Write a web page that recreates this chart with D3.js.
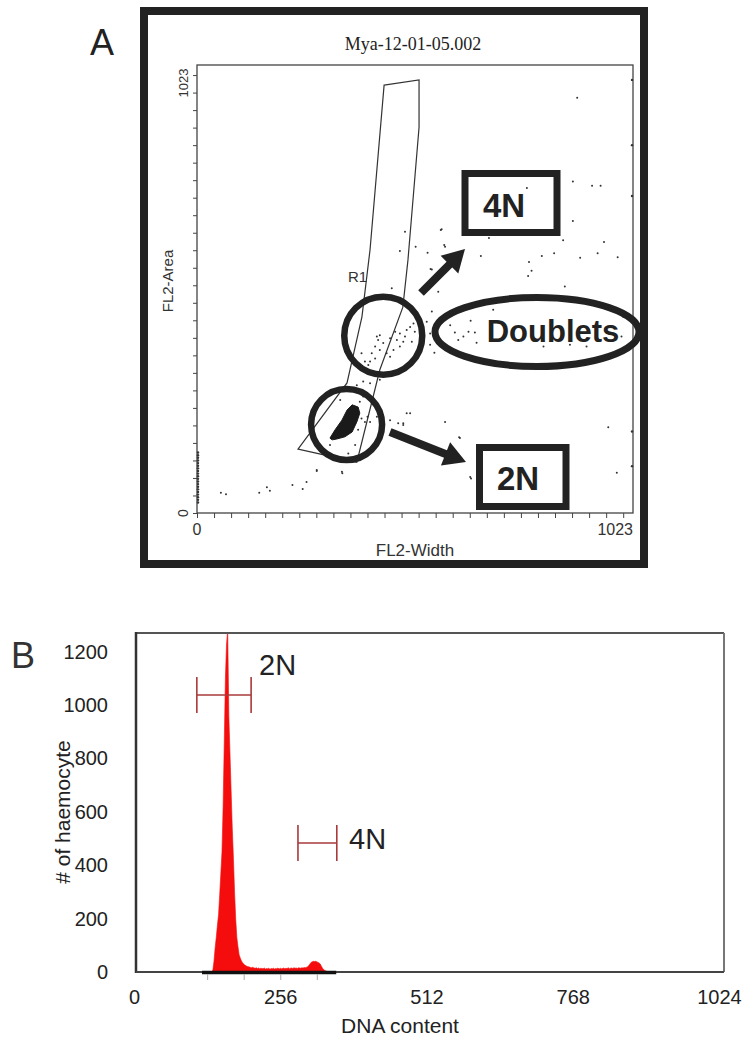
<!DOCTYPE html>
<html><head><meta charset="utf-8">
<script src="https://cdn.jsdelivr.net/npm/d3@7"></script>
<style>
html,body{margin:0;padding:0;background:#fff;}
svg{display:block;}
text{font-family:"Liberation Sans",Arial,Helvetica,sans-serif;}
</style></head><body>
<svg id="fig" width="745" height="1041"></svg>
<script>
// ---------- Panel A: FL2-Width vs FL2-Area dot plot ----------
const plotTitle = "Mya-12-01-05.002";
const widthAxisLabels = ["0", "1023"];
const areaAxisLabels = ["0", "1023"];

// R1 gate outline, [FL2-Width, FL2-Area]
const gateR1 = [[439,977],[521,989],[521,881],[495,578],[483,470],[429,327],[375,116],
                [237,146],[352,297],[387,448],[406,601]];

// dense singlet (2N) cluster outline
const singletCluster = [[312,171],[324,190],[340,212],[352,235],[364,247],[378,242],
                        [382,228],[375,208],[364,185],[347,174],[328,169],[317,167]];

// individual events, [FL2-Width, FL2-Area]
const events = [
  [488,642],[572,646],[476,598],[513,608],[541,594],[580,612],[551,556],
  [882,757],[927,747],[947,747],[774,742],[882,667],[574,648],[582,608],[685,628],[859,623],
  [955,619],[666,587],[779,573],[809,587],[838,593],[899,583],[940,593],[987,584],[777,541],
  [785,553],[863,517],[548,557],
  [594,429],[605,412],[625,403],[637,414],[652,412],[642,439],[613,395],[656,389],[695,464],
  [813,380],[875,384],[914,380],[996,403],[1000,448],[557,366],[547,410],
  [500,228],[484,205],[582,208],[615,173],[965,196],[643,79],[985,92],
  [422,403],[429,406],[425,395],[418,380],[410,365],[406,346],[402,338],[429,372],[437,388],
  [453,399],[465,414],[476,410],[488,403],[492,418],[500,425],[508,433],[484,391],[476,380],
  [461,372],[453,357],[504,391],[511,414],[418,353],[445,365],[469,395],[394,346],[386,365],
  [539,437],[547,384],[551,460],[566,505],[457,513],[429,304],[390,300],[375,292],[406,296],
  [453,212],[422,220],[437,197],[492,228],[472,205],[484,201],[617,171],[281,98],[340,94],
  [355,136],[386,216],[400,220],[406,208],[394,208],[390,266],[382,254],
  [56,46],[68,43],[146,46],[164,59],[171,51],[224,64],[248,55],[257,71],[281,96],[341,91],[641,82],
  [892,948],[336,258],[312,155],[371,155],[378,190]
];
// events piled at the channel limits
const zeroWidthArea = [24,30,36,42,48,54,60,66,72,78,84,90,96,102,108,114,120,126,132,138];
const maxWidthArea = [989,840,724,186,107];

// ---------- Panel B: DNA content histogram ----------
const dnaChannel = [134,136,138,140,142,144,146,148,150,152,154,156,158,160,162,164,166,168,170,172,
  174,176,178,180,182,184,186,188,190,192,194,196,198,200,202,204,206,208,210,212,214,216,218,220,
  222,224,226,228,230,232,234,236,238,240,242,244,246,248,250,252,254,256,258,260,262,264,266,268,
  270,272,274,276,278,280,282,284,286,288,290,292,294,296,298,300,302,304,306,308,310,312,314,316,
  318,320,322,324,326,328,330,332,334,336,338,340];
const haemocyteCount = [0,2,7,40,90,130,175,215,290,370,450,620,860,1100,1230,1280,960,820,680,540,
  430,300,200,130,95,65,52,42,35,30,26,23,21,20,19,17,16,18,15,14,16,13,15,12,
  14,13,12,15,11,13,12,14,10,13,12,14,11,13,12,15,11,14,12,13,15,12,14,13,
  16,12,14,15,13,16,14,15,13,16,15,14,16,15,17,16,18,20,24,30,36,38,40,39,
  40,38,36,34,30,22,14,9,6,4,2,0];
const countTicks = [0,200,400,600,800,1000,1200];
const dnaTicks = [0,256,512,768,1024];
const dnaMinorTicks = [128,192,256,320];
// ploidy markers: [from, to, count level]
const markerLabels = ["2N", "4N"];
const markerRanges = [[110,205,1038],[287,355,483]];

const svg = d3.select("#fig");
const ink = "#222";

// ===== Panel A =====
const A = {left:197, right:633, top:65, bottom:513};
const xA = d3.scaleLinear().domain([0,1023]).range([A.left, A.right]);
const yA = d3.scaleLinear().domain([0,1023]).range([A.bottom, A.top]);

svg.append("text").attr("x", 90).attr("y", 55).attr("font-size", 36).attr("fill", ink).text("A");

svg.append("rect").attr("x", 144).attr("y", 11).attr("width", 500).attr("height", 553)
  .attr("fill", "none").attr("stroke", ink).attr("stroke-width", 8);

svg.append("text").attr("x", 413).attr("y", 50).attr("text-anchor", "middle")
  .style("font-family", "'Liberation Serif','Times New Roman',serif")
  .attr("font-size", 18).attr("fill", ink).text(plotTitle);

const gA = svg.append("g");
gA.append("rect").attr("x", A.left).attr("y", A.top).attr("width", A.right - A.left)
  .attr("height", A.bottom - A.top).attr("fill", "none").attr("stroke", "#444").attr("stroke-width", 1.3);

const minorA = d3.range(0, 1001, 40);
const axB = gA.append("g").attr("transform", `translate(0,${A.bottom})`)
  .call(d3.axisBottom(xA).tickValues(minorA).tickSize(5).tickFormat(""));
const axL = gA.append("g").attr("transform", `translate(${A.left},0)`)
  .call(d3.axisLeft(yA).tickValues(minorA).tickSize(4).tickFormat(""));
[axB, axL].forEach(a => { a.select(".domain").remove(); a.selectAll("line").attr("stroke", "#444").attr("stroke-width", 1); });

gA.append("text").attr("x", xA(0)).attr("y", 535).attr("text-anchor", "middle")
  .attr("font-size", 16).attr("fill", "#333").text(widthAxisLabels[0]);
gA.append("text").attr("x", xA(1023)).attr("y", 535).attr("text-anchor", "end")
  .attr("font-size", 16).attr("fill", "#333").text(widthAxisLabels[1]);
gA.append("text").attr("x", (A.left + A.right) / 2).attr("y", 556).attr("text-anchor", "middle")
  .attr("font-size", 17).attr("fill", "#333").text("FL2-Width");

gA.append("text").attr("transform", `translate(188,${yA(0)}) rotate(-90)`).attr("text-anchor", "middle")
  .attr("font-size", 14).attr("fill", "#333").text(areaAxisLabels[0]);
gA.append("text").attr("transform", `translate(188,83) rotate(-90)`).attr("text-anchor", "middle")
  .attr("font-size", 13).attr("fill", "#333").text(areaAxisLabels[1]);
gA.append("text").attr("transform", `translate(173,${(A.top + A.bottom) / 2 - 8}) rotate(-90)`)
  .attr("text-anchor", "middle").attr("font-size", 15).attr("fill", "#333").text("FL2-Area");

// gate
const lineA = d3.line().x(d => xA(d[0])).y(d => yA(d[1]));
gA.append("path").attr("d", lineA(gateR1) + "Z").attr("fill", "none")
  .attr("stroke", "#333").attr("stroke-width", 1.2);
gA.append("text").attr("x", 348).attr("y", 282).attr("font-size", 15).attr("fill", "#333").text("R1");

// events
gA.append("path").attr("d", lineA(singletCluster) + "Z").attr("fill", "#1a1a1a").attr("stroke", "#1a1a1a").attr("stroke-width", 1);
gA.selectAll("circle.ev").data(events).join("circle").attr("class", "ev")
  .attr("cx", d => xA(d[0])).attr("cy", d => yA(d[1])).attr("r", 1).attr("fill", "#333");
gA.selectAll("circle.z").data(zeroWidthArea).join("circle").attr("class", "z")
  .attr("cx", xA(0) + 1).attr("cy", d => yA(d)).attr("r", 1.2).attr("fill", "#333");
gA.selectAll("circle.m").data(maxWidthArea).join("circle").attr("class", "m")
  .attr("cx", xA(1023) - 1).attr("cy", d => yA(d)).attr("r", 1.2).attr("fill", "#333");

// callouts
const callout = svg.append("g").attr("fill", "none").attr("stroke", ink);
callout.append("circle").attr("cx", xA(351)).attr("cy", yA(202)).attr("r", 35.5).attr("stroke-width", 6.5);
callout.append("circle").attr("cx", xA(437)).attr("cy", yA(405)).attr("r", 39).attr("stroke-width", 6.5);
callout.append("ellipse").attr("cx", 537).attr("cy", 332).attr("rx", 102).attr("ry", 34.5).attr("stroke-width", 7);
callout.append("rect").attr("x", 465).attr("y", 173.5).attr("width", 92).attr("height", 59).attr("stroke-width", 7);
callout.append("rect").attr("x", 479.5).attr("y", 447.5).attr("width", 86.5).attr("height", 59).attr("stroke-width", 7);

function arrow(x0, y0, x1, y1) {
  const dx = x1 - x0, dy = y1 - y0, L = Math.hypot(dx, dy);
  const ux = dx / L, uy = dy / L, head = 22, half = 12.5;
  const bx = x1 - ux * head, by = y1 - uy * head;
  svg.append("line").attr("x1", x0).attr("y1", y0).attr("x2", bx + ux * 2).attr("y2", by + uy * 2)
    .attr("stroke", ink).attr("stroke-width", 8);
  svg.append("path").attr("d", `M${x1},${y1}L${bx - uy * half},${by + ux * half}L${bx + uy * half},${by - ux * half}Z`)
    .attr("fill", ink);
}
arrow(421, 293, 465, 249);
arrow(390, 432, 466, 462);

svg.append("text").attr("x", 504).attr("y", 217).attr("text-anchor", "middle").attr("font-size", 33)
  .attr("font-weight", "bold").attr("fill", ink).text("4N");
svg.append("text").attr("x", 518).attr("y", 490).attr("text-anchor", "middle").attr("font-size", 33)
  .attr("font-weight", "bold").attr("fill", ink).text("2N");
svg.append("text").attr("x", 553).attr("y", 342).attr("text-anchor", "middle").attr("font-size", 31)
  .attr("font-weight", "bold").attr("fill", ink).text("Doublets");

// ===== Panel B =====
const B = {left:136, right:724, top:633, bottom:972};
const xB = d3.scaleLinear().domain([0,1024]).range([134, 719]);
const yB = d3.scaleLinear().domain([0,1270]).range([B.bottom, B.top]);

svg.append("text").attr("x", 11).attr("y", 668).attr("font-size", 36).attr("fill", "#333").text("B");

const defs = svg.append("defs");
defs.append("clipPath").attr("id", "histClip").append("rect")
  .attr("x", B.left).attr("y", B.top).attr("width", B.right - B.left).attr("height", B.bottom - B.top);

const hist = dnaChannel.map((c, i) => ({ch: c, n: haemocyteCount[i]}));
svg.append("path").attr("clip-path", "url(#histClip)")
  .attr("d", d3.area().x(d => xB(d.ch)).y0(yB(0)).y1(d => yB(d.n))(hist))
  .attr("fill", "#f50d0d").attr("stroke", "#f50d0d").attr("stroke-width", 0.6);

// frame
svg.append("line").attr("x1", B.left).attr("x2", B.right).attr("y1", B.top).attr("y2", B.top).attr("stroke", "#555").attr("stroke-width", 2);
svg.append("line").attr("x1", B.right).attr("x2", B.right).attr("y1", B.top).attr("y2", B.bottom).attr("stroke", "#777").attr("stroke-width", 2);
svg.append("line").attr("x1", B.left).attr("x2", B.left).attr("y1", B.top - 1).attr("y2", B.bottom + 1).attr("stroke", "#333").attr("stroke-width", 2.5);
svg.append("line").attr("x1", B.left).attr("x2", B.right).attr("y1", B.bottom).attr("y2", B.bottom).attr("stroke", "#444").attr("stroke-width", 2);
svg.append("line").attr("x1", xB(119)).attr("x2", xB(354)).attr("y1", B.bottom + 0.5).attr("y2", B.bottom + 0.5).attr("stroke", "#111").attr("stroke-width", 3.5);

const minorB = svg.append("g").attr("transform", `translate(0,${B.bottom + 2})`)
  .call(d3.axisBottom(xB).tickValues(dnaMinorTicks).tickSize(6).tickFormat(""));
minorB.select(".domain").remove();
minorB.selectAll("line").attr("stroke", "#aaa");

const yAxisB = svg.append("g").attr("transform", `translate(${B.left},0)`)
  .call(d3.axisLeft(yB).tickValues(countTicks).tickSize(0).tickPadding(28).tickFormat(d3.format("d")));
yAxisB.select(".domain").remove();
yAxisB.selectAll("text").attr("font-size", 20).attr("fill", "#222").attr("font-family", null);

const xAxisB = svg.append("g").attr("transform", `translate(0,${B.bottom})`)
  .call(d3.axisBottom(xB).tickValues(dnaTicks).tickSize(0).tickPadding(18).tickFormat(d3.format("d")));
xAxisB.select(".domain").remove();
xAxisB.selectAll("text").attr("font-size", 20).attr("fill", "#222").attr("font-family", null);

svg.append("text").attr("x", 400).attr("y", 1033).attr("text-anchor", "middle").attr("font-size", 21)
  .attr("fill", "#222").text("DNA content");
svg.append("text").attr("transform", `translate(70,812) rotate(-90)`).attr("text-anchor", "middle")
  .attr("font-size", 21).attr("fill", "#222").text("# of haemocyte");

// ploidy markers
const mk = svg.append("g").attr("stroke", "#a83a3a").attr("stroke-width", 1.6);
markerRanges.forEach(r => {
  const y = yB(r[2]);
  mk.append("line").attr("x1", xB(r[0])).attr("x2", xB(r[1])).attr("y1", y).attr("y2", y);
  mk.append("line").attr("x1", xB(r[0])).attr("x2", xB(r[0])).attr("y1", y - 18).attr("y2", y + 18);
  mk.append("line").attr("x1", xB(r[1])).attr("x2", xB(r[1])).attr("y1", y - 18).attr("y2", y + 18);
});
svg.append("text").attr("x", 259).attr("y", 675).attr("font-size", 29).attr("fill", "#222").text(markerLabels[0]);
svg.append("text").attr("x", 349).attr("y", 849).attr("font-size", 29).attr("fill", "#222").text(markerLabels[1]);
</script>
</body></html>
